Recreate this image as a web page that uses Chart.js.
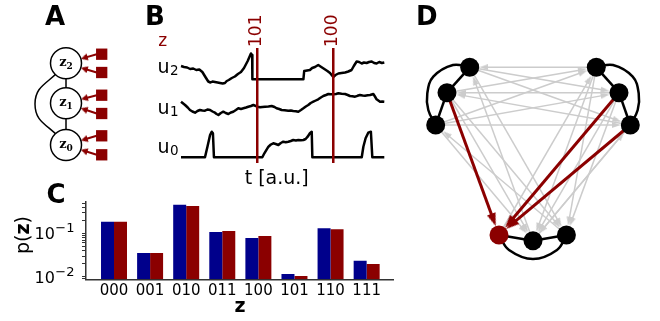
<!DOCTYPE html>
<html>
<head>
<meta charset="utf-8">
<title>Sampling network figure</title>
<script src="https://cdn.jsdelivr.net/npm/chart.js@4.4.1/dist/chart.umd.min.js"></script>
<style>
  body { margin: 0; background: #fff; }
  #fig { position: relative; width: 660px; height: 321px; overflow: hidden; }
  #fig canvas { position: absolute; }
</style>
</head>
<body>
<div id="fig">
  <canvas id="panelC" width="400" height="146" style="left:0;top:175px"></canvas>
  <canvas id="panelB" width="260" height="190" style="left:140px;top:0"></canvas>
  <canvas id="panelA" width="145" height="175" style="left:0;top:0"></canvas>
  <canvas id="panelD" width="260" height="321" style="left:400px;top:0"></canvas>
</div>
<script>
// ---- panel A: three units z2, z1, z0 with two inputs each ----
const aUnits = ['2', '1', '0'];
const aUnitX = [0, 0, 0];
const aUnitY = [40.7, 0.7, -41];
const aInputX = [35.7, 35.7, 35.7, 35.7, 35.7, 35.7];
const aInputY = [49.8, 31.5, 8.8, -9.5, -31.8, -50.8];
const aInputTarget = [0, 0, 1, 1, 2, 2];
const aLinks = [[0, 1], [1, 2]];
const aLoop = [[0, 40.7], [-31, 0], [0, -41]];   // z2 -> z0 round the left

// ---- panel B: membrane traces, t in a.u. ----
const u2Trace = [[0, 9.4], [1.5, 9.3], [3, 9.25], [4.5, 9.1], [6, 9.15], [7.5, 9.0], [9, 9.05], [10.5, 8.8],
  [12, 8.3], [13.4, 7.85], [14.5, 7.75], [15.5, 7.85], [16.7, 7.8], [18, 7.75], [19.2, 7.7], [20.5, 7.65],
  [21.6, 7.7], [22.5, 7.9], [23.5, 8.0], [25, 8.2], [26.5, 8.35], [28, 8.6], [29.5, 8.8], [31, 9.2],
  [32.8, 9.9], [34.4, 10.65], [35.0, 10.5], [35.1, 8.07], [60.2, 8.07], [60.6, 8.9], [62, 8.95], [63.4, 9.0],
  [64.5, 9.2], [65.9, 9.3], [67.5, 9.5], [69, 9.3], [70.5, 9.1], [72, 8.9], [73.3, 8.7], [74.9, 8.3],
  [76, 8.5], [77.4, 8.65], [79, 8.7], [80.7, 8.75], [82.3, 8.85], [83.9, 9.0], [85, 9.4], [86.4, 9.85],
  [87.6, 9.8], [88.9, 9.65], [90, 9.75], [91.3, 9.7], [92.5, 9.8], [93.8, 9.85], [95, 9.7], [96.2, 9.65],
  [97.5, 9.8], [98.8, 9.7], [100, 9.75]];
const u1Trace = [[0, 5.83], [2, 5.5], [3.3, 5.25], [4.4, 5.0], [5.6, 4.85], [6.9, 4.73], [8.1, 4.9], [9.3, 5.0],
  [10.5, 4.95], [11.8, 4.93], [13, 5.05], [14.3, 5.0], [15.5, 4.85], [16.7, 4.73], [17.5, 4.6], [18.4, 4.5],
  [19.6, 4.7], [20.8, 4.83], [22, 4.7], [23.3, 4.6], [24.5, 4.75], [25.7, 4.83], [27, 5.0], [28.2, 5.17],
  [29.5, 5.1], [30.7, 5.17], [32, 5.25], [33.1, 5.33], [34.4, 5.4], [35.6, 5.5], [37.5, 5.33], [38.9, 5.27],
  [40, 5.3], [41.3, 5.33], [43, 5.35], [44.6, 5.4], [46, 5.3], [47, 5.17], [48.3, 5.1], [49.5, 5.0],
  [51, 4.98], [52.8, 4.93], [54, 4.95], [55.2, 4.9], [56.5, 4.88], [57.7, 4.83], [59, 5.0], [60.2, 5.17],
  [61.4, 5.35], [62.6, 5.5], [63.8, 5.7], [65.1, 5.83], [66.3, 5.95], [67.5, 6.07], [68.8, 6.25], [70, 6.4],
  [71.3, 6.5], [72.5, 6.6], [73.7, 6.58], [74.9, 6.57], [76.2, 6.6], [77.4, 6.67], [79, 6.62], [80.7, 6.6],
  [82, 6.5], [83.1, 6.4], [84.3, 6.38], [85.6, 6.33], [86.8, 6.42], [88, 6.5], [89.3, 6.45], [90.5, 6.43],
  [91.8, 6.48], [93, 6.5], [94.6, 6.6], [95.4, 6.35], [96.2, 6.07], [97.9, 5.83], [99, 5.85], [100, 5.83]];
const u0Trace = [[0, 0.27], [11.8, 0.27], [13.0, 1.33], [14.3, 2.5], [15.1, 2.83], [15.7, 2.67], [16.2, 0.27],
  [40.0, 0.27], [41.0, 0.67], [43.0, 1.33], [44.2, 1.55], [45.4, 1.67], [46.6, 1.6], [47.9, 1.5], [49.1, 1.7],
  [50.3, 1.83], [51.5, 1.78], [52.8, 1.83], [54, 1.9], [55.2, 2.0], [56.5, 1.95], [57.7, 2.0], [59, 1.98],
  [60.2, 2.0], [61.3, 2.1], [62.3, 2.33], [63.4, 2.67], [64.3, 2.83], [64.6, 0.27], [88.9, 0.27], [89.7, 1.33],
  [90.8, 2.17], [92.1, 2.73], [93.4, 2.83], [94.1, 0.27], [100, 0.27]];
const zMarkT = [37.5, 74.9];
const zMarkLabel = ['101', '100'];
const zMarkSpan = [-0.3, 11.2];

// ---- panel C: p(z), sampled vs target ----
const states = ['000', '001', '010', '011', '100', '101', '110', '111'];
const pSampled = [0.185, 0.035, 0.457, 0.107, 0.078, 0.0115, 0.132, 0.0234];
const pTarget = [0.185, 0.035, 0.426, 0.113, 0.087, 0.0104, 0.125, 0.0196];
const yMajor = [0.01, 0.1];
const yMinor = [0.009, 0.02, 0.03, 0.04, 0.05, 0.06, 0.07, 0.08, 0.09, 0.2, 0.3, 0.4, 0.5];

// ---- panel D: three networks of three units ----
const dNodeX = [-63.3, -86, -97.3, 63.3, 86, 97.3, -34, 0, 33.4];
const dNodeY = [82.7, 57.3, 25, 82.7, 57.3, 25, -85, -90.7, -85];
const dActive = 6;
const dChains = [[0, 1], [1, 2], [3, 4], [4, 5], [6, 7], [7, 8]];
const dLoopLeft = [[-63.3, 82.7], [-80, 85], [-99.7, 73.3], [-105.7, 56.7], [-104.7, 40], [-97.3, 25]];
const dLoopRight = [[63.3, 82.7], [80, 85], [99.7, 73.3], [105.7, 56.7], [104.7, 40], [97.3, 25]];
const dLoopBottom = [[-34, -85], [-24, -100], [0, -109], [24, -100], [33.4, -85]];
const dGrayEdges = [[3, 0], [0, 4], [0, 5], [1, 3], [4, 1], [5, 1], [2, 3], [2, 4], [2, 5],
  [7, 0], [0, 8], [1, 7], [1, 8], [8, 2], [2, 7], [6, 3], [3, 7], [3, 8], [4, 7], [4, 8], [5, 7], [7, 5]];
const dRedEdges = [[1, 6], [4, 6], [5, 6]];

const FONT = 'DejaVu Sans, sans-serif';
const DARKRED = '#8b0000';
const DARKBLUE = '#00008b';
const GRAY = '#cccccc';

Chart.defaults.font.family = FONT;
Chart.defaults.color = '#000';
Chart.defaults.animation = false;
Chart.defaults.events = [];
Chart.defaults.plugins.legend.display = false;
Chart.defaults.plugins.tooltip.enabled = false;

const pts = arr => arr.map(p => ({x: p[0], y: p[1]}));

// arrow head sprite, tip up; pointRotation turns it
function headSprite(w, h, color) {
  const c = document.createElement('canvas');
  c.width = w; c.height = h;
  const g = c.getContext('2d');
  g.fillStyle = color;
  g.beginPath(); g.moveTo(w / 2, 0); g.lineTo(w, h); g.lineTo(0, h); g.closePath(); g.fill();
  return c;
}

// line a -> b stopping at the rim of b (radius r), head drawn as the last point
// (diagram charts use 1 data unit = 1 px, so angles are the same on screen)
function arrow(a, b, r, head, color, width, order) {
  const dx = b.x - a.x, dy = b.y - a.y, len = Math.hypot(dx, dy);
  const ux = dx / len, uy = dy / len;
  const back = r + head.height / 2;
  return {
    data: [a, {x: b.x - ux * back, y: b.y - uy * back}],
    showLine: true, borderColor: color, borderWidth: width,
    pointRadius: [0, 1], pointStyle: head,
    pointRotation: Math.atan2(-uy, ux) * 180 / Math.PI + 90,
    order: order
  };
}

function line(points, color, width, order, tension) {
  return {data: points, showLine: true, borderColor: color, borderWidth: width,
    pointRadius: 0, tension: tension || 0, order: order};
}

const hiddenScales = (x0, x1, y0, y1) => ({
  x: {type: 'linear', display: false, min: x0, max: x1},
  y: {type: 'linear', display: false, min: y0, max: y1}
});
const noPad = {padding: 0, autoPadding: false};

function panelLetter(ctx, s, x, y) {
  ctx.font = 'bold 26px ' + FONT;
  ctx.fillStyle = '#000';
  ctx.textAlign = 'left';
  ctx.textBaseline = 'alphabetic';
  ctx.fillText(s, x, y);
}

// ================= A =================
const headA = headSprite(7, 7, DARKRED);
const aSets = [];
aLinks.forEach(([i, j]) => aSets.push(line([{x: aUnitX[i], y: aUnitY[i]}, {x: aUnitX[j], y: aUnitY[j]}], '#000', 1.5, 3)));
aSets.push(line(pts(aLoop), '#000', 1.5, 3, 0.5));
aInputY.forEach((y, k) => {
  const u = aInputTarget[k];
  aSets.push(arrow({x: aInputX[k] - 5, y: y}, {x: aUnitX[u], y: aUnitY[u]}, 15.5, headA, DARKRED, 2, 2));
});
aSets.push({data: aInputX.map((x, k) => ({x: x, y: aInputY[k]})), pointStyle: 'rect', pointRadius: 8,
  pointBackgroundColor: DARKRED, pointBorderWidth: 0, order: 1});
aSets.push({data: aUnitX.map((x, k) => ({x: x, y: aUnitY[k]})), pointRadius: 15.5,
  pointBackgroundColor: '#fff', pointBorderColor: '#000', pointBorderWidth: 1.5, order: 0});

new Chart(document.getElementById('panelA'), {
  type: 'scatter',
  data: {datasets: aSets},
  options: {responsive: false, layout: noPad, scales: hiddenScales(-66, 79, -71, 104)},
  plugins: [{
    id: 'aText',
    afterDraw(chart) {
      const {ctx, scales: {x, y}} = chart;
      ctx.save();
      panelLetter(ctx, 'A', 45, 25);
      ctx.fillStyle = '#000';
      ctx.textBaseline = 'alphabetic';
      aUnits.forEach((sub, k) => {
        const px = x.getPixelForValue(aUnitX[k]), py = y.getPixelForValue(aUnitY[k]);
        ctx.font = 'bold 13px DejaVu Serif, serif';
        const wz = ctx.measureText('z').width;
        ctx.font = 'bold 9px DejaVu Serif, serif';
        const ws = ctx.measureText(sub).width;
        const x0 = px - (wz + ws) / 2;
        ctx.font = 'bold 13px DejaVu Serif, serif';
        ctx.fillText('z', x0, py + 3);
        ctx.font = 'bold 9px DejaVu Serif, serif';
        ctx.fillText(sub, x0 + wz, py + 6);
      });
      ctx.restore();
    }
  }]
});

// ================= B =================
const bSets = [u2Trace, u1Trace, u0Trace].map(tr => {
  const s = line(pts(tr), '#000', 2.5, 1);
  s.borderJoinStyle = 'round';
  return s;
});
zMarkT.forEach(t => bSets.push(line([{x: t, y: zMarkSpan[0]}, {x: t, y: zMarkSpan[1]}], DARKRED, 2.5, 0)));

new Chart(document.getElementById('panelB'), {
  type: 'scatter',
  data: {datasets: bSets},
  options: {responsive: false, layout: noPad, scales: hiddenScales(-20.17, 107.72, -3, 16)},
  plugins: [{
    id: 'bText',
    afterDraw(chart) {
      const {ctx, scales: {x, y}} = chart;
      ctx.save();
      panelLetter(ctx, 'B', 5, 24.5);
      ctx.textAlign = 'left';
      ctx.textBaseline = 'alphabetic';
      ctx.fillStyle = DARKRED;
      ctx.font = '17px ' + FONT;
      ctx.fillText('z', 18.3, 45.7);
      ctx.fillStyle = '#000';
      [['2', 73.3], ['1', 114], ['0', 153.3]].forEach(([sub, by]) => {
        ctx.font = '19px ' + FONT;
        ctx.fillText('u', 17.5, by);
        const w = ctx.measureText('u').width;
        ctx.font = '13.5px ' + FONT;
        ctx.fillText(sub, 17.5 + w + 0.5, by + 2);
      });
      ctx.font = '19px ' + FONT;
      ctx.textAlign = 'center';
      ctx.fillText('t [a.u.]', 136.7, 184.4);
      ctx.fillStyle = DARKRED;
      ctx.font = '17px ' + FONT;
      ctx.textAlign = 'left';
      ctx.textBaseline = 'middle';
      zMarkT.forEach((t, k) => {
        ctx.save();
        ctx.translate(x.getPixelForValue(t) - 1, y.getPixelForValue(zMarkSpan[1]) - 1);
        ctx.rotate(-Math.PI / 2);
        ctx.fillText(zMarkLabel[k], 0, 0);
        ctx.restore();
      });
      ctx.restore();
    }
  }]
});

// ================= C =================
new Chart(document.getElementById('panelC'), {
  type: 'bar',
  data: {
    datasets: [
      {data: states.map((s, i) => ({x: i, y: pSampled[i]})), backgroundColor: DARKBLUE,
        categoryPercentage: 0.72, barPercentage: 1},
      {data: states.map((s, i) => ({x: i, y: pTarget[i]})), backgroundColor: DARKRED,
        categoryPercentage: 0.72, barPercentage: 1}
    ]
  },
  options: {
    responsive: false,
    layout: {padding: {top: 27, right: 7, left: 0, bottom: 0}},
    scales: {
      x: {
        type: 'linear', min: -0.776, max: 7.73, offset: false,
        afterBuildTicks: s => { s.ticks = states.map((_, i) => ({value: i})); },
        afterFit: s => { s.height = 41.7; },
        grid: {display: true, drawOnChartArea: false, drawTicks: false},
        border: {display: true, color: '#333', width: 1.5},
        ticks: {autoSkip: false, maxRotation: 0, padding: 3, color: '#000', font: {size: 15},
          callback: (v, i) => states[i]}
      },
      y: {
        type: 'logarithmic', min: 0.0087, max: 0.53,
        afterBuildTicks: s => { s.ticks = yMinor.concat(yMajor).sort((a, b) => a - b).map(v => ({value: v})); },
        afterFit: s => { s.width = 86; },
        grid: {drawOnChartArea: false, drawTicks: true, tickLength: 4, tickColor: '#333', tickWidth: 1},
        border: {display: true, color: '#333', width: 1.5},
        ticks: {display: false}
      }
    }
  },
  plugins: [{
    id: 'cText',
    afterDraw(chart) {
      const {ctx, scales: {y}} = chart;
      ctx.save();
      panelLetter(ctx, 'C', 46.5, 28);
      ctx.fillStyle = '#000';
      ctx.textAlign = 'left';
      ctx.textBaseline = 'alphabetic';
      yMajor.forEach(v => {
        const py = y.getPixelForValue(v);
        ctx.font = '16px ' + FONT;
        ctx.fillText('10', 34.5, py + 6);
        const w = ctx.measureText('10').width;
        ctx.font = '13px ' + FONT;
        ctx.fillText('\u2212' + Math.round(-Math.log10(v)), 34.5 + w + 0.5, py - 1);
      });
      // x label
      ctx.font = 'bold 19px ' + FONT;
      ctx.textAlign = 'center';
      ctx.fillText('z', 240, 136.7);
      // y label p(z), z in bold
      ctx.translate(29.2, 60);
      ctx.rotate(-Math.PI / 2);
      ctx.textAlign = 'left';
      ctx.font = '19px ' + FONT;
      const w1 = ctx.measureText('p(').width, w3 = ctx.measureText(')').width;
      ctx.font = 'bold 19px ' + FONT;
      const w2 = ctx.measureText('z').width;
      let x0 = -(w1 + w2 + w3) / 2;
      ctx.font = '19px ' + FONT;
      ctx.fillText('p(', x0, 0);
      ctx.font = 'bold 19px ' + FONT;
      ctx.fillText('z', x0 + w1, 0);
      ctx.font = '19px ' + FONT;
      ctx.fillText(')', x0 + w1 + w2, 0);
      ctx.restore();
    }
  }]
});

// ================= D =================
const headGray = headSprite(6, 9, GRAY);
const headRed = headSprite(9, 13, DARKRED);
const dNode = k => ({x: dNodeX[k], y: dNodeY[k]});
const dSets = [];
dGrayEdges.forEach(([i, j]) => dSets.push(arrow(dNode(i), dNode(j), 9.5, headGray, GRAY, 1.5, 3)));
dChains.forEach(([i, j]) => dSets.push(line([dNode(i), dNode(j)], '#000', 2.5, 2)));
[dLoopLeft, dLoopRight, dLoopBottom].forEach(l => dSets.push(line(pts(l), '#000', 2.5, 2, 0.4)));
dRedEdges.forEach(([i, j]) => dSets.push(arrow(dNode(i), dNode(j), 9.5, headRed, DARKRED, 3, 1)));
dSets.push({data: dNodeX.map((x, k) => dNode(k)), pointRadius: 9.5, pointBorderWidth: 0,
  pointBackgroundColor: dNodeX.map((x, k) => k === dActive ? DARKRED : '#000'), order: 0});

new Chart(document.getElementById('panelD'), {
  type: 'scatter',
  data: {datasets: dSets},
  options: {responsive: false, layout: noPad, scales: hiddenScales(-133, 127, -171, 150)},
  plugins: [{
    id: 'dText',
    afterDraw(chart) {
      chart.ctx.save();
      panelLetter(chart.ctx, 'D', 16, 25);
      chart.ctx.restore();
    }
  }]
});
</script>
</body>
</html>
